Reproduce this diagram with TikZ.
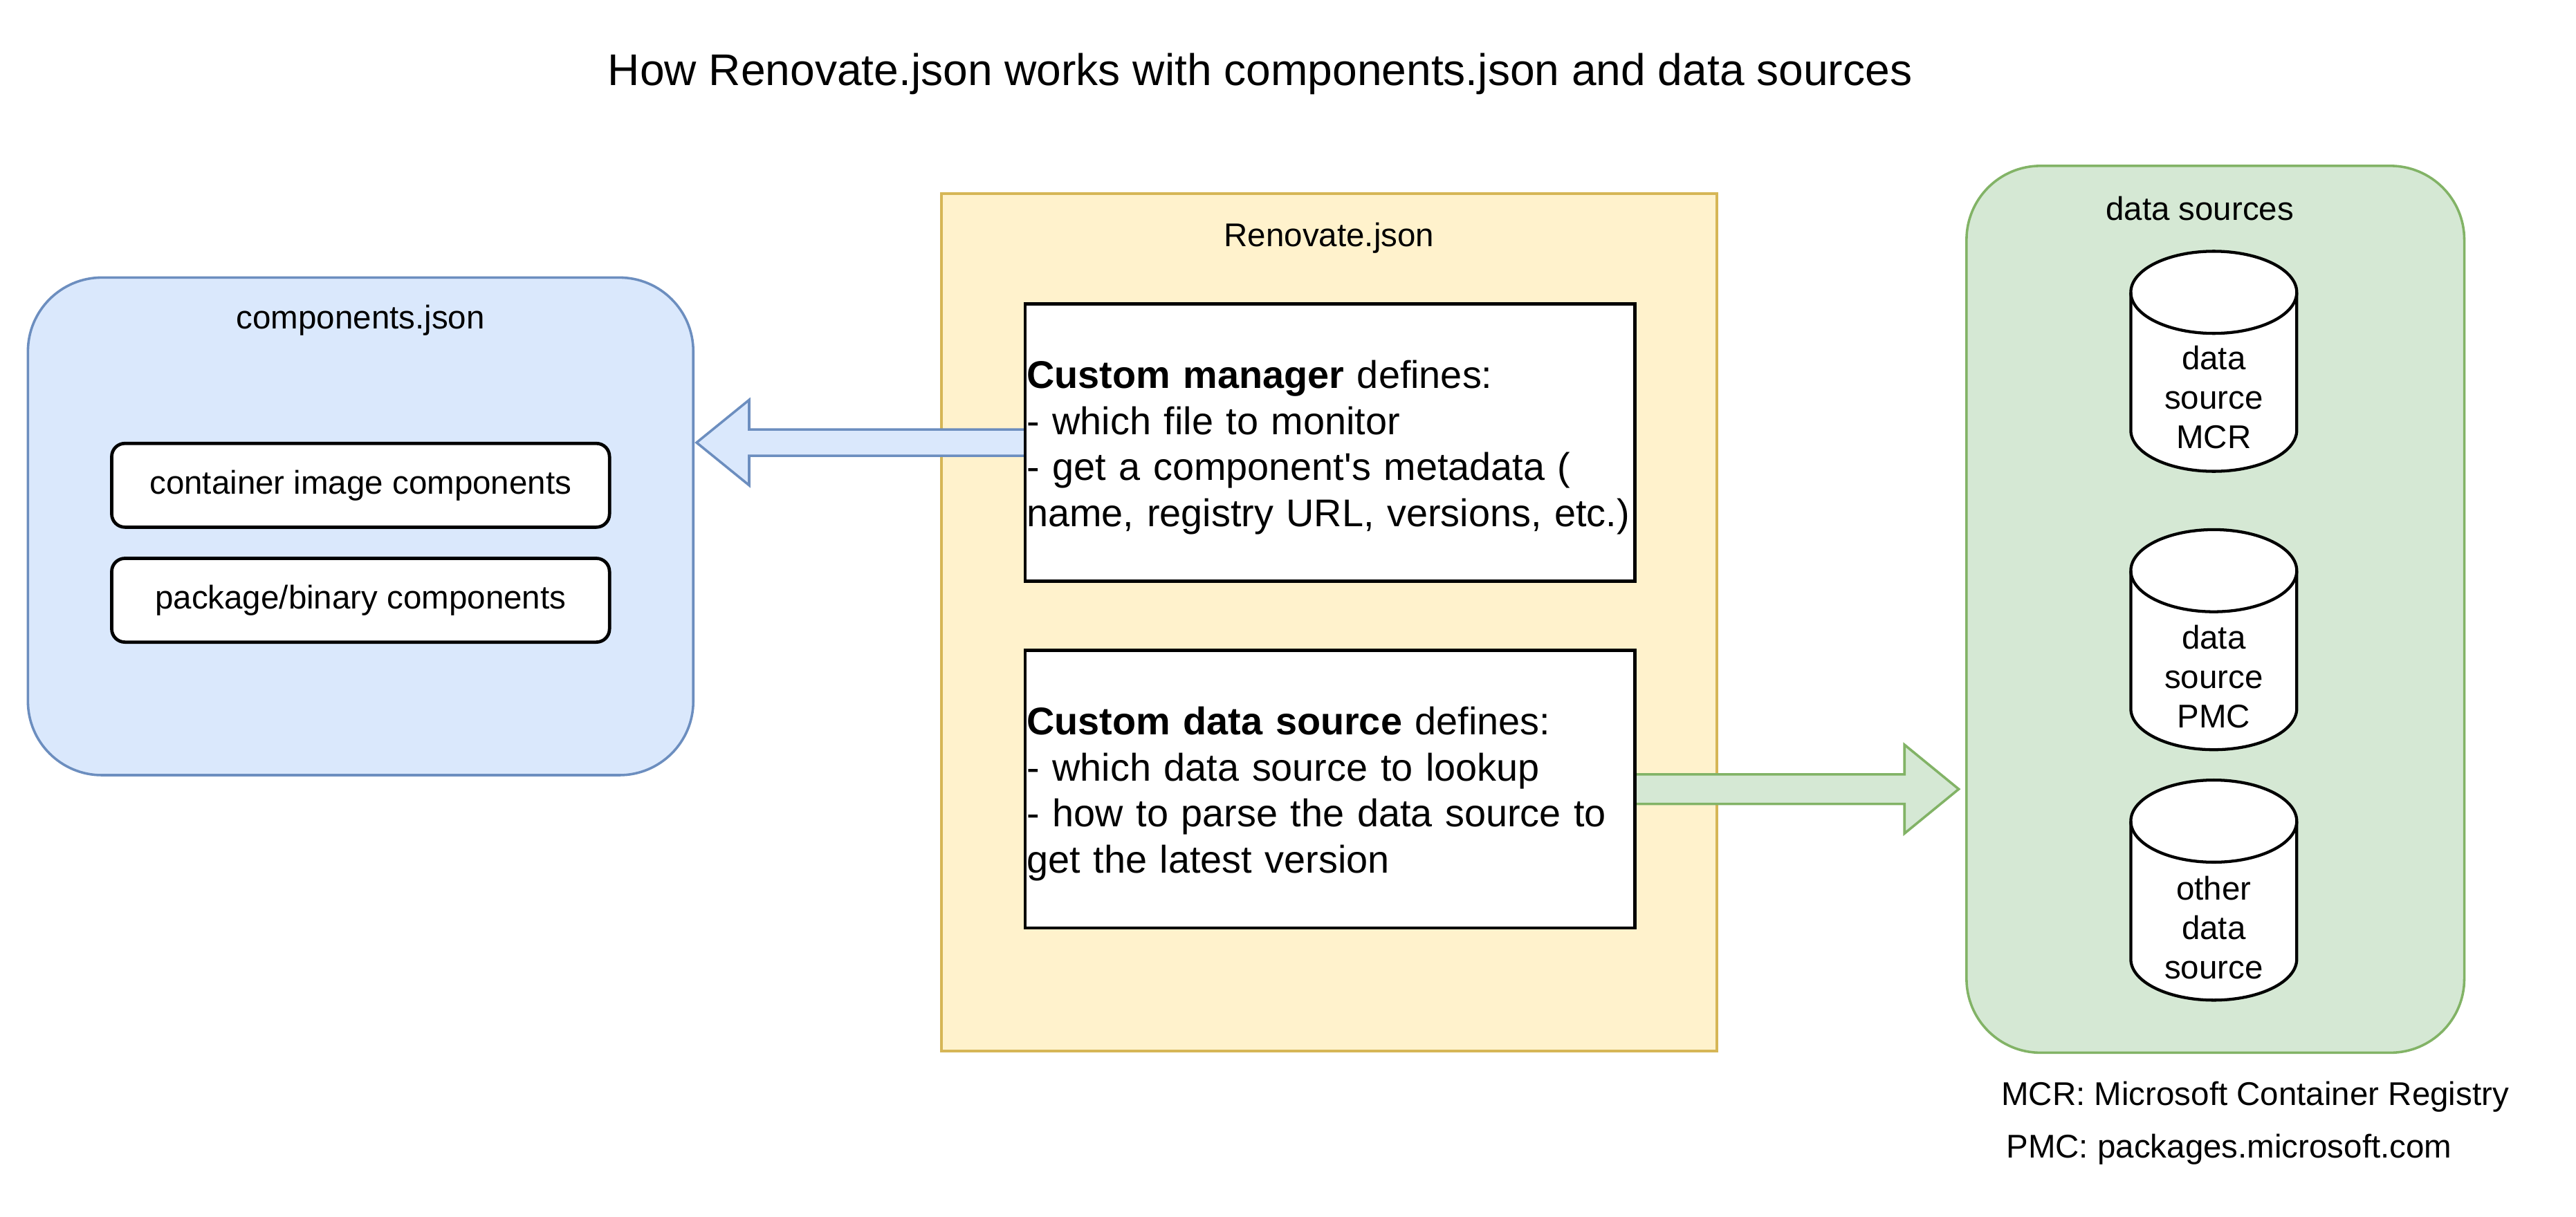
\documentclass[tikz,border=0pt]{standalone}
\usepackage{fontspec}
\setmainfont{Liberation Sans}
\usetikzlibrary{arrows,positioning,calc}

\definecolor{blueFill}{HTML}{DAE8FC}
\definecolor{blueLine}{HTML}{6C8EBF}
\definecolor{yellowFill}{HTML}{FFF2CC}
\definecolor{yellowLine}{HTML}{D6B656}
\definecolor{greenFill}{HTML}{D5E8D4}
\definecolor{greenLine}{HTML}{82B366}

\pgfdeclarelayer{front}
\pgfsetlayers{main,front}

\begin{document}
\begin{tikzpicture}[x=1pt,y=1pt,node distance=17pt]
       \tikzstyle{every node}=[inner sep=0pt, font=\fontsize{20}{24}\selectfont]
       \tikzstyle{group}=[rectangle, line width=1.5pt, rounded corners=45pt]
       \tikzstyle{item}=[rectangle, draw, fill=white, line width=2pt, rounded corners=8pt, minimum width=303pt, minimum height=51pt]
       \tikzstyle{rule}=[rectangle, draw, fill=white, line width=2pt, minimum width=371pt, minimum height=169pt,
              text width=369pt, inner xsep=1pt, align=left, font=\fontsize{23.5}{28}\selectfont,
              execute at begin node={\rule{0pt}{23pt}}]
       \tikzstyle{db}=[rectangle, minimum width=105pt, minimum height=138pt, path picture={
              \draw[line width=1.8pt, fill=white] ([shift={(2pt,-27pt)}]path picture bounding box.north west)
                     -- ++(0,-84pt) arc[start angle=180, end angle=360, x radius=50.5pt, y radius=25pt]
                     -- ++(0,84pt) arc[start angle=0, end angle=180, x radius=50.5pt, y radius=25pt] -- cycle;
              \draw[line width=1.8pt] ([shift={(2pt,-27pt)}]path picture bounding box.north west)
                     arc[start angle=180, end angle=360, x radius=50.5pt, y radius=25pt];}]
       \tikzstyle{fatarrow}=[line width=1.5pt]

       \useasboundingbox (0,0) rectangle (1568,-741);

       \node[font=\fontsize{27}{32}\selectfont] (title) at (767,-45) {How Renovate.json works with components.json and data sources};

       % components.json
       \node[group, draw=blueLine, fill=blueFill, minimum width=405pt, minimum height=303pt] (c_json) at (219.5,-320.5) {};
       \node (c_name) at (219.5,-195) {components.json};
       \node[item] (c_img) at (219.5,-295.5) {container image components};
       \node[item, below=of c_img] (c_pkg) {package/binary components};

       % Renovate.json
       \node[rectangle, draw=yellowLine, fill=yellowFill, line width=1.5pt, minimum width=472pt, minimum height=522pt] (r_json) at (809,-379) {};
       \node (r_name) at (809,-145) {Renovate.json};
       \begin{pgfonlayer}{front}
       \node[rule] (r_mgr) at (809.5,-269.5) {\textbf{Custom manager} defines:\\- which file to monitor\\- get a component\textquotesingle s metadata (\\name, registry URL, versions, etc.)};
       \node[rule] (r_src) at (809.5,-480.5) {\textbf{Custom data source} defines:\\- which data source to lookup\\- how to parse the data source to\\get the latest version};
       \end{pgfonlayer}

       % data sources
       \node[group, draw=greenLine, fill=greenFill, minimum width=303pt, minimum height=540pt] (d_src) at (1348.5,-371) {};
       \node (d_name) at (1339,-127) {data sources};
       \node[db] (d_mcr) at (1347.5,-220) {};
       \node[align=center] (d_mcr_t) at (1347.5,-242) {data\\source\\MCR};
       \node[db] (d_pmc) at (1347.5,-389.5) {};
       \node[align=center] (d_pmc_t) at (1347.5,-412) {data\\source\\PMC};
       \node[db] (d_oth) at (1347.5,-542) {};
       \node[align=center] (d_oth_t) at (1347.5,-565) {other\\data\\source};

       \node[anchor=west] (l_mcr) at (1218,-668) {MCR: Microsoft Container Registry};
       \node[anchor=west] (l_pmc) at (1221,-700) {PMC: packages.microsoft.com};

       % block arrows
       \path (c_json.east |- r_mgr.west) ++(1.25,0) coordinate (l_tip);
       \path (d_src.west |- r_src.east) ++(-4,0) coordinate (r_tip);

       \draw[fatarrow, draw=blueLine, fill=blueFill]
              ($(r_mgr.west)+(6,8)$) -- ($(l_tip)+(32,8)$) -- ($(l_tip)+(32,26)$) -- (l_tip)
              -- ($(l_tip)+(32,-26)$) -- ($(l_tip)+(32,-8)$) -- ($(r_mgr.west)+(6,-8)$) -- cycle;
       \draw[fatarrow, draw=greenLine, fill=greenFill]
              ($(r_src.east)+(-6,9)$) -- ($(r_tip)+(-33,9)$) -- ($(r_tip)+(-33,27)$) -- (r_tip)
              -- ($(r_tip)+(-33,-27)$) -- ($(r_tip)+(-33,-9)$) -- ($(r_src.east)+(-6,-9)$) -- cycle;
\end{tikzpicture}
\end{document}
